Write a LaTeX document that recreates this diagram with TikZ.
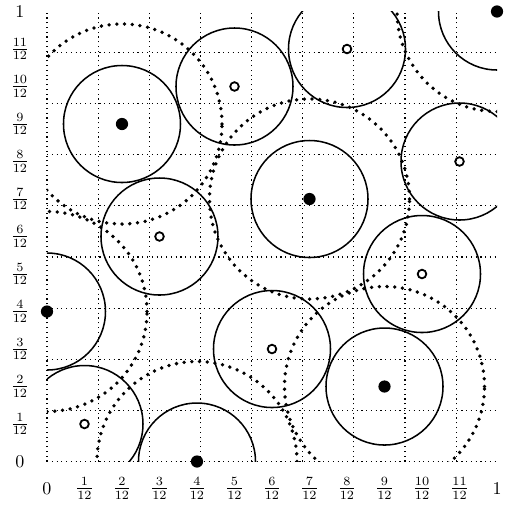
\documentclass[tikz,border=0pt]{standalone}
\usepackage{xcolor}
\usepackage{amsmath}
\usepackage{tikz}
\usetikzlibrary{calc}

\tikzset{
  fullpt/.style={circle, fill=black, inner sep=0pt, minimum size=6.8pt},
  openpt/.style={circle, draw=black, line width=1pt, inner sep=0pt, minimum size=4.8pt},
  ring/.style={line width=0.85pt},
  halo/.style={line width=2.1pt, line cap=round, dash pattern=on 0pt off 4.3pt},
  lab/.style={inner sep=0pt}
}

\begin{document}
\begin{tikzpicture}[x=0.7333cm, y=0.7333cm]
\useasboundingbox (-1.253, -1.208) rectangle (12.293, 12.307);
\draw [dotted, line width=0.65pt] (0, 0) grid (12, 12);

\node [lab] (X0) at (0, -0.72) {$0$};
\node [lab] (X1) at (1, -0.72) {$\frac{1}{12}$};
\node [lab] (X2) at (2, -0.72) {$\frac{2}{12}$};
\node [lab] (X3) at (3, -0.72) {$\frac{3}{12}$};
\node [lab] (X4) at (4, -0.72) {$\frac{4}{12}$};
\node [lab] (X5) at (5, -0.72) {$\frac{5}{12}$};
\node [lab] (X6) at (6, -0.72) {$\frac{6}{12}$};
\node [lab] (X7) at (7, -0.72) {$\frac{7}{12}$};
\node [lab] (X8) at (8, -0.72) {$\frac{8}{12}$};
\node [lab] (X9) at (9, -0.72) {$\frac{9}{12}$};
\node [lab] (X10) at (10, -0.72) {$\frac{10}{12}$};
\node [lab] (X11) at (11, -0.72) {$\frac{11}{12}$};
\node [lab] (X12) at (12, -0.72) {$1$};
\node [lab] (Y0) at (-0.72, 0) {$0$};
\node [lab] (Y1) at (-0.72, 1) {$\frac{1}{12}$};
\node [lab] (Y2) at (-0.72, 2) {$\frac{2}{12}$};
\node [lab] (Y3) at (-0.72, 3) {$\frac{3}{12}$};
\node [lab] (Y4) at (-0.72, 4) {$\frac{4}{12}$};
\node [lab] (Y5) at (-0.72, 5) {$\frac{5}{12}$};
\node [lab] (Y6) at (-0.72, 6) {$\frac{6}{12}$};
\node [lab] (Y7) at (-0.72, 7) {$\frac{7}{12}$};
\node [lab] (Y8) at (-0.72, 8) {$\frac{8}{12}$};
\node [lab] (Y9) at (-0.72, 9) {$\frac{9}{12}$};
\node [lab] (Y10) at (-0.72, 10) {$\frac{10}{12}$};
\node [lab] (Y11) at (-0.72, 11) {$\frac{11}{12}$};
\node [lab] (Y12) at (-0.72, 12) {$1$};

% centres
\node [fullpt] (C1) at (12, 12) {};
\node [fullpt] (C2) at (2, 9) {};
\node [fullpt] (C3) at (7, 7) {};
\node [fullpt] (C4) at (0, 4) {};
\node [fullpt] (C5) at (9, 2) {};
\node [fullpt] (C6) at (4, 0) {};
% other points
\node [openpt] (H1) at (8, 11) {};
\node [openpt] (H2) at (5, 10) {};
\node [openpt] (H3) at (11, 8) {};
\node [openpt] (H4) at (3, 6) {};
\node [openpt] (H5) at (10, 5) {};
\node [openpt] (H6) at (6, 3) {};
\node [openpt] (H7) at (1, 1) {};

\begin{scope}
\clip (0, 0) rectangle (12, 12);
\draw [ring] (C1) circle (1.56);
\draw [ring] (C2) circle (1.56);
\draw [ring] (C3) circle (1.56);
\draw [ring] (C4) circle (1.56);
\draw [ring] (C5) circle (1.56);
\draw [ring] (C6) circle (1.56);
\draw [ring] (H1) circle (1.56);
\draw [ring] (H2) circle (1.56);
\draw [ring] (H3) circle (1.56);
\draw [ring] (H4) circle (1.56);
\draw [ring] (H5) circle (1.56);
\draw [ring] (H6) circle (1.56);
\draw [ring] (H7) circle (1.56);
\draw [halo] (C1) circle (2.667);
\draw [halo] (C2) circle (2.667);
\draw [halo] (C3) circle (2.667);
\draw [halo] (C4) circle (2.667);
\draw [halo] (C5) circle (2.667);
\draw [halo] (C6) circle (2.667);
\end{scope}
\end{tikzpicture}
\end{document}
